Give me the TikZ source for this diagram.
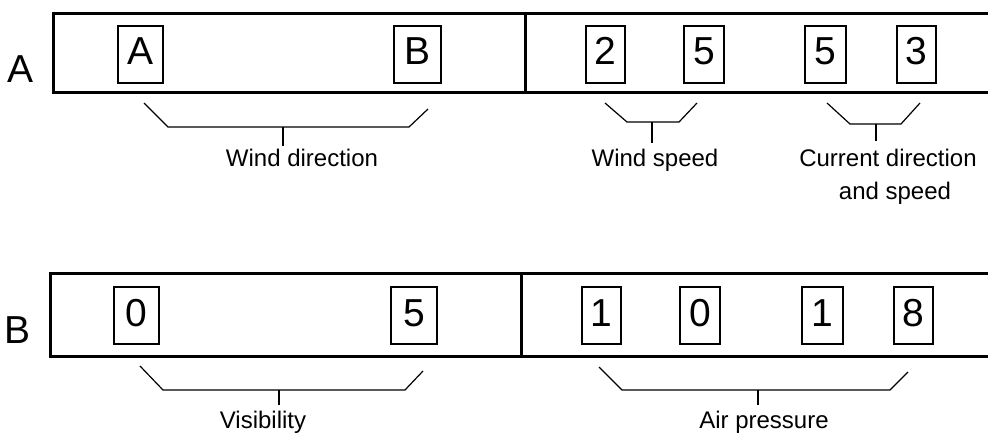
\documentclass[tikz,border=0pt]{standalone}
\usepackage{fontspec}
\setmainfont{Liberation Sans}
\begin{document}
\begin{tikzpicture}[x=1pt,y=-1pt,
  bar/.style={line width=3pt},
  cell/.style={draw, line width=1.2pt, inner sep=0pt, minimum width=42pt,
    text height=39pt, text depth=18pt, anchor=base, font=\fontsize{39}{40}\selectfont},
  rowlbl/.style={inner sep=0pt, anchor=base, font=\fontsize{39}{40}\selectfont},
  brk/.style={line width=1.2pt, line join=miter},
  lbl/.style={inner sep=0pt, anchor=base, font=\fontsize{24}{30}\selectfont}]
\clip (0,0) rectangle (988,433);
\fill[white] (0,0) rectangle (988,433);

% Row A
\draw[bar] (53.5,14) rectangle (1010,93);
\coordinate (dAt) at (525,14);
\coordinate (dAb) at (525,93);
\draw[bar] (dAt) -- (dAb);
\node[rowlbl] (la) at (20.5,83) {A};
\node[cell, minimum width=45pt] (cA) at (140.5,65) {A};
\node[cell, minimum width=47pt] (cB) at (417.5,65) {B};
\node[cell, minimum width=39pt] (c2) at (605.5,65) {2};
\node[cell, minimum width=40pt] (c5) at (704,65) {5};
\node[cell, minimum width=41pt] (c5b) at (825.5,65) {5};
\node[cell, minimum width=39pt] (c3) at (916.5,65) {3};

% Row A brackets
\draw[brk] (144,103) -- (168,127) -- (409,127) -- (428,109);
\coordinate (tWD) at (283,127);
\node[lbl] (wd) at (302,167) {Wind direction};
\draw[brk] (tWD) -- (283,146);

\draw[brk] (605,103) -- (627,122) -- (679,122) -- (697,103);
\coordinate (tWS) at (652,122);
\node[lbl] (ws) at (655,167) {Wind speed};
\draw[brk] (tWS) -- (652,143);

\draw[brk] (827,103) -- (850,124) -- (901,124) -- (920,103);
\coordinate (tCD) at (876,124);
\node[lbl] (cd1) at (888,167) {Current direction};
\node[lbl] (cd2) at (895,200) {and speed};
\draw[brk] (tCD) -- (876,141);

% Row B
\draw[bar] (50,273.5) rectangle (1010,356);
\coordinate (dBt) at (521.5,273.5);
\coordinate (dBb) at (521.5,356);
\draw[bar] (dBt) -- (dBb);
\node[rowlbl] (lb) at (18,343) {B};
\node[cell, minimum width=45pt] (b0) at (136.5,326) {0};
\node[cell, minimum width=46pt] (b5) at (414,326) {5};
\node[cell, minimum width=39pt] (b1) at (601.5,326) {1};
\node[cell, minimum width=40pt] (b0b) at (700,326) {0};
\node[cell, minimum width=41pt] (b1b) at (822.5,326) {1};
\node[cell, minimum width=39pt] (b8) at (913.5,326) {8};

% Row B brackets
\draw[brk] (140,366) -- (163,390) -- (405,390) -- (423,371);
\coordinate (tV) at (279,390);
\node[lbl] (vis) at (263,428) {Visibility};
\draw[brk] (tV) -- (279,405);

\draw[brk] (599,367) -- (622,390) -- (890,390) -- (908,372);
\coordinate (tAP) at (758,390);
\node[lbl] (ap) at (764,428) {Air pressure};
\draw[brk] (tAP) -- (758,405);
\end{tikzpicture}
\end{document}
